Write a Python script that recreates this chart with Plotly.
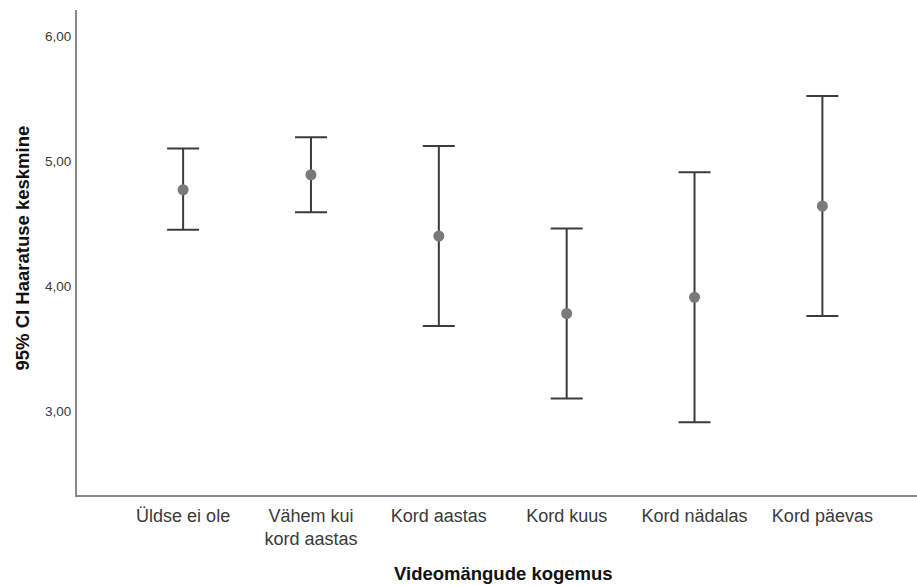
import plotly.graph_objects as go

# Group labels (video game experience) and 95% CI of the mean
categories = ["Üldse ei ole", "Vähem kui<br>kord aastas", "Kord aastas",
              "Kord kuus", "Kord nädalas", "Kord päevas"]
means = [4.77, 4.89, 4.40, 3.78, 3.91, 4.64]
ci_upper = [5.10, 5.19, 5.12, 4.46, 4.91, 5.52]
ci_lower = [4.45, 4.59, 3.68, 3.10, 2.91, 3.76]

y_ticks = [3, 4, 5, 6]
y_tick_text = ["3,00", "4,00", "5,00", "6,00"]

err_plus = [u - m for u, m in zip(ci_upper, means)]
err_minus = [m - l for m, l in zip(means, ci_lower)]

FONT = "Liberation Sans, Arial, sans-serif"

fig = go.Figure()
fig.add_trace(go.Scatter(
    x=categories,
    y=means,
    mode="markers",
    marker=dict(size=11, color="#7a7a7a"),
    error_y=dict(
        type="data",
        symmetric=False,
        array=err_plus,
        arrayminus=err_minus,
        color="#3c3c3c",
        thickness=2,
        width=16,
    ),
    showlegend=False,
))

fig.update_layout(
    width=917,
    height=586,
    margin=dict(l=77, r=0, t=10, b=91),
    paper_bgcolor="white",
    plot_bgcolor="white",
    font=dict(family=FONT, color="#333333"),
    xaxis=dict(
        type="category",
        range=[-0.83, 5.74],
        showgrid=False,
        zeroline=False,
        showline=True,
        linecolor="#8a8a8a",
        linewidth=2,
        ticks="",
        tickfont=dict(size=18, color="#3a3a3a"),
        ticklabelstandoff=3,
    ),
    yaxis=dict(
        range=[2.328, 6.208],
        tickvals=y_ticks,
        ticktext=y_tick_text,
        showgrid=False,
        zeroline=False,
        showline=True,
        linecolor="#8a8a8a",
        linewidth=2,
        ticks="",
        tickfont=dict(size=13.5, color="#3a3a3a"),
        ticklabelstandoff=1,
    ),
    annotations=[
        dict(
            text="<b>95% CI Haaratuse keskmine</b>",
            xref="paper", yref="paper",
            x=0, y=0.5, xanchor="center", yanchor="middle",
            xshift=-55, yshift=4,
            textangle=-90, showarrow=False,
            font=dict(size=18.5, color="#111111", family=FONT),
        ),
        dict(
            text="<b>Videomängude kogemus</b>",
            xref="paper", yref="paper",
            x=0.5, y=0, xanchor="center", yanchor="middle",
            xshift=6, yshift=-78,
            showarrow=False,
            font=dict(size=18.5, color="#111111", family=FONT),
        ),
    ],
)

fig.write_html("out.html")
